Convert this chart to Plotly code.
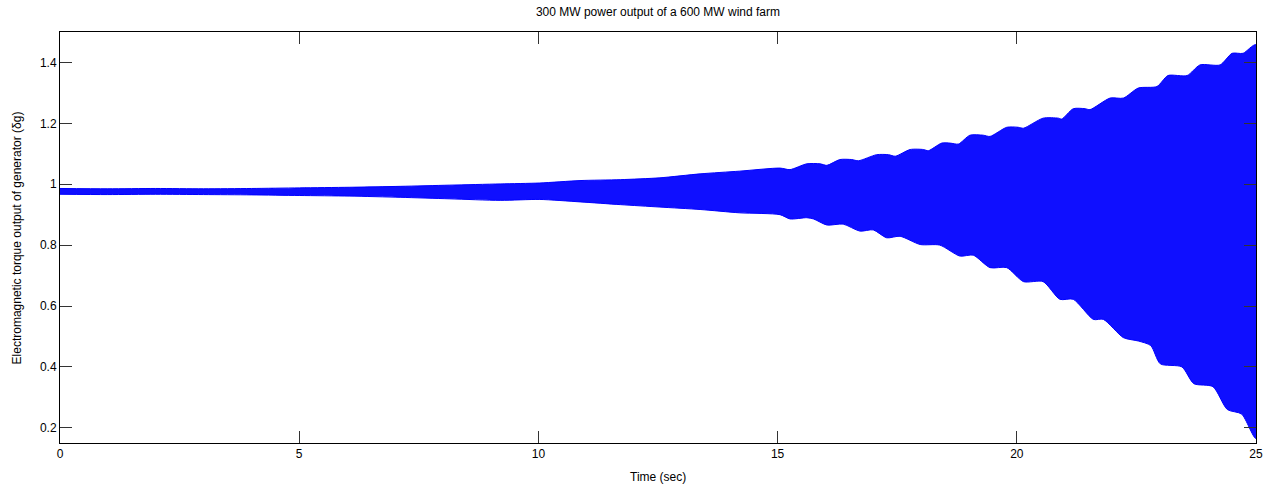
import plotly.graph_objects as go

# Envelope of the oscillating torque (time in sec)
t_up = [0, 1, 2, 3, 4, 5.0, 6.06, 7.11, 8.15, 9.2, 10.03, 10.87, 11.71, 12.54,
        13.38, 14.21, 15.05, 15.26, 15.61, 15.89, 16.03, 16.30, 16.55, 16.69,
        17.07, 17.32, 17.46, 17.77, 18.05, 18.15, 18.43, 18.61, 18.78, 19.02,
        19.30, 19.44, 19.79, 20.03, 20.14, 20.55, 20.87, 20.94, 21.18, 21.43,
        21.53, 21.95, 22.23, 22.54, 22.93, 23.16, 23.56, 23.83, 24.25, 24.5,
        24.73, 25.0]
upper = [0.986, 0.985, 0.986, 0.985, 0.986, 0.988, 0.990, 0.993, 0.997, 1.001,
         1.004, 1.012, 1.015, 1.021, 1.034, 1.043, 1.053, 1.048, 1.067, 1.067,
         1.062, 1.081, 1.081, 1.077, 1.097, 1.097, 1.092, 1.114, 1.114, 1.110,
         1.135, 1.135, 1.132, 1.161, 1.161, 1.157, 1.187, 1.187, 1.184, 1.217,
         1.217, 1.214, 1.248, 1.248, 1.245, 1.283, 1.283, 1.316, 1.321, 1.357,
         1.357, 1.392, 1.392, 1.430, 1.430, 1.458]

t_lo = [0, 1, 2, 3, 4, 5.0, 6.06, 7.11, 8.15, 9.2, 10.03, 10.87, 11.71, 12.54,
        13.38, 14.21, 15.05, 15.26, 15.61, 15.75, 16.03, 16.37, 16.72, 17.0,
        17.28, 17.56, 17.98, 18.39, 18.81, 19.09, 19.44, 19.79, 20.14, 20.55,
        20.9, 21.18, 21.6, 21.81, 22.23, 22.54, 22.8, 23.0, 23.45, 23.7, 24.1,
        24.4, 24.7, 25.0]
lower = [0.967, 0.966, 0.967, 0.966, 0.965, 0.963, 0.961, 0.957, 0.952, 0.947,
         0.950, 0.942, 0.933, 0.925, 0.917, 0.906, 0.900, 0.886, 0.890, 0.886,
         0.866, 0.869, 0.846, 0.850, 0.824, 0.829, 0.802, 0.800, 0.764, 0.767,
         0.726, 0.726, 0.680, 0.680, 0.622, 0.622, 0.556, 0.556, 0.496, 0.485,
         0.470, 0.410, 0.400, 0.345, 0.335, 0.260, 0.245, 0.165]

x_ticks = [0, 5, 10, 15, 20, 25]
y_ticks = [0.2, 0.4, 0.6, 0.8, 1.0, 1.2, 1.4]
y_tick_text = ["0.2", "0.4", "0.6", "0.8", "1", "1.2", "1.4"]

blue = "rgb(0,0,255)"

fig = go.Figure()
# lower edge, then upper edge drawn back in reverse to close the band
fig.add_trace(go.Scatter(x=t_lo + t_up[::-1], y=lower + upper[::-1],
                         mode="lines", fill="toself", fillcolor="rgb(15,15,255)",
                         line=dict(color=blue, width=1, shape="spline",
                                   smoothing=0.7),
                         showlegend=False, hoverinfo="skip"))

axis_common = dict(showline=True, linecolor="black", linewidth=1, mirror="ticks",
                   ticks="inside", ticklen=12, tickcolor="#333", showgrid=False,
                   zeroline=False, automargin=False,
                   tickfont=dict(size=12, color="black"))

fig.update_layout(
    width=1271, height=488,
    margin=dict(l=60, r=15, t=32, b=45),
    paper_bgcolor="white", plot_bgcolor="white",
    font=dict(family="Liberation Sans, Arial, sans-serif", size=12, color="black"),
    title=dict(text="300 MW power output of a 600 MW wind farm", x=0.5177,
               xanchor="center", y=1 - 12 / 488, yanchor="middle",
               font=dict(size=12)),
    xaxis=dict(range=[0, 25], tickvals=x_ticks, **axis_common),
    yaxis=dict(range=[0.15, 1.5], tickvals=y_ticks, ticktext=y_tick_text,
               **axis_common),
    annotations=[
        dict(text="Time (sec)", xref="paper", yref="paper", x=0.5, y=-0.083,
             xanchor="center", yanchor="middle", showarrow=False,
             font=dict(size=12)),
        dict(text="Electromagnetic torque output of generator (\u03b4g)",
             xref="paper", yref="paper", x=-0.036, y=0.5, textangle=-90,
             xanchor="center", yanchor="middle", showarrow=False,
             font=dict(size=12)),
    ],
)

fig.write_html("out.html", config={"displayModeBar": False},
               post_script="document.body.style.margin='0';")
